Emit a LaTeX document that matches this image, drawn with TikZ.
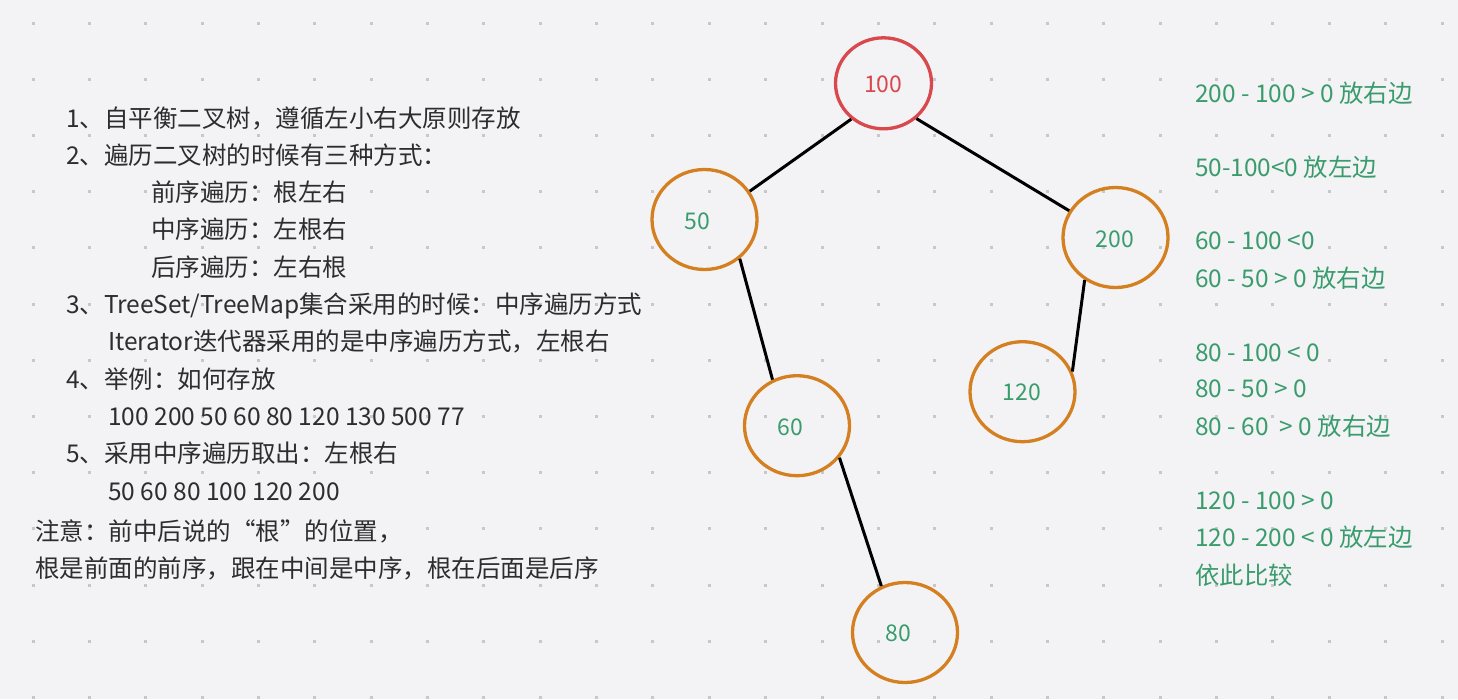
\documentclass[tikz,border=0pt]{standalone}
\usepackage{fontspec}
\setmainfont{Noto Sans CJK SC}
\usetikzlibrary{shapes.geometric}
\definecolor{bgc}{RGB}{243,243,246}
\definecolor{dotc}{RGB}{200,200,204}
\definecolor{redc}{RGB}{216,72,76}
\definecolor{orangec}{RGB}{212,128,32}
\definecolor{greenc}{RGB}{58,156,108}
\definecolor{darkc}{RGB}{45,45,45}
\tikzset{
  lefttxt/.style={anchor=base west, inner sep=0pt, text=darkc, font=\fontsize{24.5}{30}\selectfont},
  righttxt/.style={anchor=base west, inner sep=0pt, text=greenc, font=\fontsize{24.4}{30}\selectfont},
  rootnode/.style={ellipse, draw=redc, line width=3.3pt, minimum width=96pt, minimum height=91pt, inner sep=0pt},
  treenode/.style={ellipse, draw=orangec, line width=3.3pt, minimum width=105pt, minimum height=100pt, inner sep=0pt},
  numtxt/.style={inner sep=0pt, text=greenc, font=\fontsize{23}{27}\selectfont},
  edge/.style={draw=black, line width=3pt}
}
\begin{document}
\begin{tikzpicture}[x=1pt,y=-1pt]
\fill[bgc] (0,0) rectangle (1458,699);
\useasboundingbox (0,0) rectangle (1458,699);
% dot grid
\foreach \i in {0,...,25}{
  \foreach \j in {0,...,12}{
    \fill[dotc] ({33+56.36*\i-1.5},{23+56.2*\j-1.5}) rectangle ++(3,3);
  }
}
% left text
\node[lefttxt] (t1) at (66,127) {1、自平衡二叉树，遵循左小右大原则存放};
\node[lefttxt] (t2) at (66,164.3) {2、遍历二叉树的时候有三种方式：};
\node[lefttxt] (t3) at (151,201.6) {前序遍历：根左右};
\node[lefttxt] (t4) at (151,238.9) {中序遍历：左根右};
\node[lefttxt] (t5) at (151,276.2) {后序遍历：左右根};
\node[lefttxt] (t6) at (66,313.5) {3、TreeSet/TreeMap集合采用的时候：中序遍历方式};
\node[lefttxt] (t7) at (108,350.8) {Iterator迭代器采用的是中序遍历方式，左根右};
\node[lefttxt] (t8) at (66,388.1) {4、举例：如何存放};
\node[lefttxt] (t9) at (108,425.4) {100 200 50 60 80 120 130 500 77};
\node[lefttxt] (t10) at (66,462.7) {5、采用中序遍历取出：左根右};
\node[lefttxt] (t11) at (108,500) {50 60 80 100 120 200};
\node[lefttxt] (t12) at (35,540) {注意：前中后说的“根”的位置，};
\node[lefttxt] (t13) at (35,577) {根是前面的前序，跟在中间是中序，根在后面是后序};
% right text
\node[righttxt] (r1) at (1195,102) {200 - 100 > 0 放右边};
\node[righttxt] (r2) at (1195,176.5) {50-100<0 放左边};
\node[righttxt] (r3) at (1195,249.5) {60 - 100 <0};
\node[righttxt] (r4) at (1195,287) {60 - 50 > 0 放右边};
\node[righttxt] (r5) at (1195,361) {80 - 100 < 0};
\node[righttxt] (r6) at (1195,397.5) {80 - 50 > 0};
\node[righttxt] (r7) at (1195,435) {80 - 60 \ > 0 放右边};
\node[righttxt] (r8) at (1195,509) {120 - 100 > 0};
\node[righttxt] (r9) at (1195,546) {120 - 200 < 0 放左边};
\node[righttxt] (r10) at (1195,584) {依此比较};
% tree nodes
\node[rootnode] (c100) at (883.5,83.3) {};
\node[treenode] (c50) at (704.5,219.5) {};
\node[treenode] (c200) at (1115.5,237.5) {};
\node[treenode] (c120) at (1022.5,391.7) {};
\node[treenode] (c60) at (797,425.7) {};
\node[treenode] (c80) at (905,632.5) {};
\node[numtxt, text=redc] (n100) at (883.3,84) {100};
\node[numtxt] (n50) at (697.5,221) {50};
\node[numtxt] (n200) at (1114.7,239) {200};
\node[numtxt] (n120) at (1022,392.5) {120};
\node[numtxt] (n60) at (790.5,427) {60};
\node[numtxt] (n80) at (898.3,633) {80};
% edges
\draw[edge] (c100.-132) -- (c50.32);
\draw[edge] (c100.-47) -- (c200.150);
\draw[edge] (c50.-48) -- (c60.118);
\draw[edge] (c200.234) -- (c120.22);
\draw[edge] (c60.-37) -- (c80.117);
\end{tikzpicture}
\end{document}
